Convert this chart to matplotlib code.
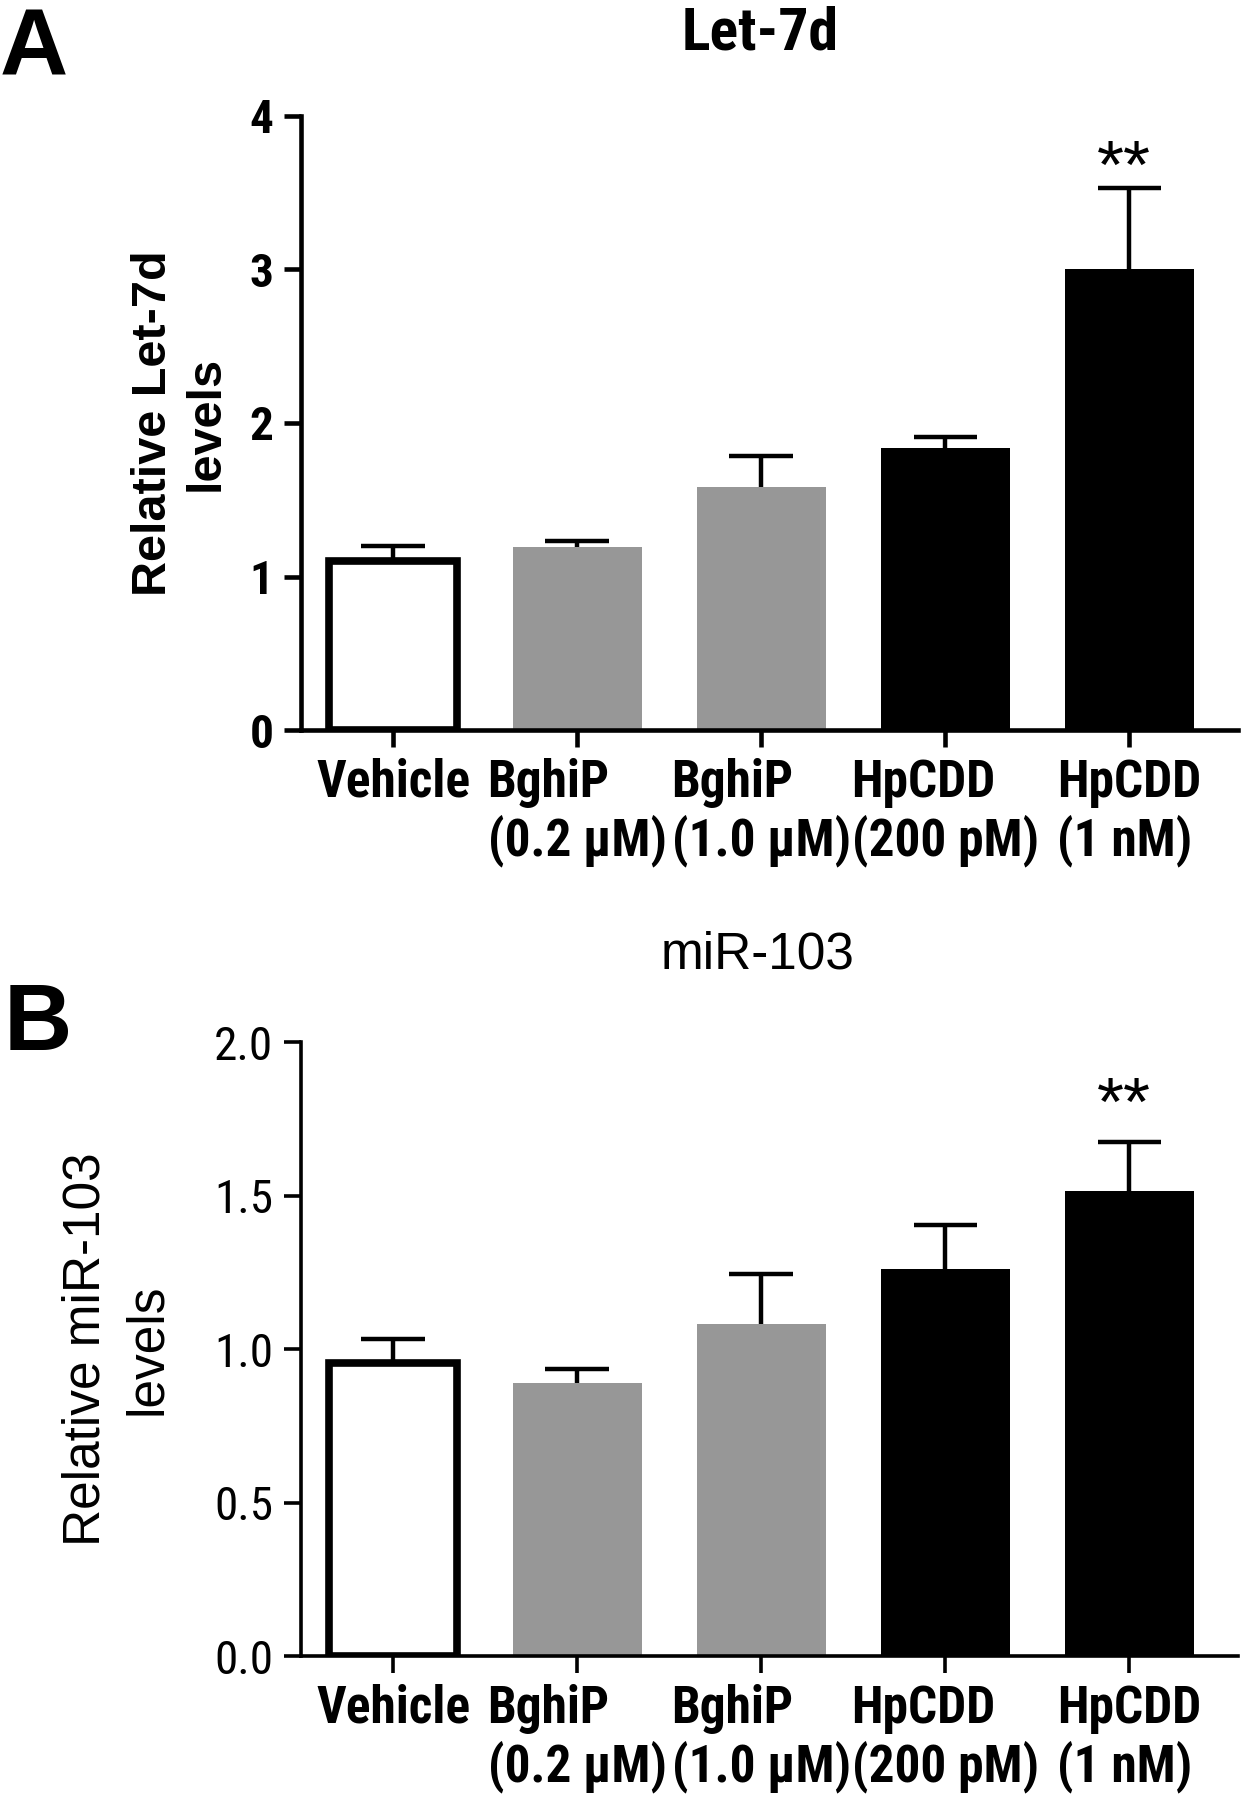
import matplotlib
matplotlib.use("Agg")
from matplotlib import pyplot as plt
from matplotlib import font_manager as fm

# categories (two-line tick labels)
groups = ["Vehicle", "BghiP\n(0.2 µM)", "BghiP\n(1.0 µM)", "HpCDD\n(200 pM)", "HpCDD\n(1 nM)"]

# panel A: Let-7d
let7d_mean = [1.10, 1.19, 1.585, 1.84, 3.00]
let7d_err = [0.10, 0.04, 0.20, 0.07, 0.53]

# panel B: miR-103
mir103_mean = [0.953, 0.89, 1.08, 1.26, 1.514]
mir103_err = [0.08, 0.045, 0.165, 0.145, 0.16]

face = ["white", "#979797", "#979797", "black", "black"]

# look for a narrow sans, otherwise fall back on Liberation Sans a bit smaller
installed = {f.name for f in fm.fontManager.ttflist}
narrow, stretch, shrink = "Liberation Sans", "normal", 0.86
for cand in ["Liberation Sans Narrow", "Arial Narrow", "Roboto Condensed", "Open Sans Condensed"]:
    if cand in installed:
        narrow, shrink = cand, 1.0
        break
else:
    if any(f.name == "DejaVu Sans" and f.stretch == "condensed" for f in fm.fontManager.ttflist):
        narrow, stretch, shrink = "DejaVu Sans", "condensed", 0.9
narrow = [narrow, "DejaVu Sans"]
wide = ["Liberation Sans", "DejaVu Sans"]

fig = plt.figure(figsize=(12.42, 18), dpi=100)


def panel(rect, means, errs, ylim, yticks, ylabels, lw_axis, bold, ylab, lsp, lpad, star_off):
    ax = fig.add_axes(rect)
    x = list(range(len(groups)))
    tops = [m + e for m, e in zip(means, errs)]
    ax.bar(x, means, width=0.70, color=face, edgecolor=["black"] * 5,
           linewidth=[5.5, 0, 0, 0, 0], zorder=2)
    # upper error bars only, no cap at the bar top
    ax.vlines(x, means, tops, color="black", linewidth=3.2, zorder=3)
    ax.hlines(tops, [i - 0.172 for i in x], [i + 0.172 for i in x], color="black",
              linewidth=3.2, zorder=3)
    ax.set_xlim(-0.5, 4.59)
    ax.set_ylim(*ylim)
    ax.spines["top"].set_visible(False)
    ax.spines["right"].set_visible(False)
    for s in ["left", "bottom"]:
        ax.spines[s].set_linewidth(lw_axis)
    ax.set_xticks(x)
    ax.set_xticklabels(groups, family=narrow, stretch=stretch, fontweight="bold",
                       fontsize=37 * shrink, linespacing=1.15, multialignment="left")
    ax.set_yticks(yticks)
    ax.set_yticklabels(ylabels, family=narrow, stretch=stretch, fontsize=34 * shrink,
                       fontweight="bold" if bold else "normal")
    ax.tick_params(axis="both", direction="out", width=lw_axis, length=12)
    ax.tick_params(axis="x", pad=8)
    ax.tick_params(axis="y", pad=8)
    ax.set_ylabel(ylab, family=wide, fontsize=35 if bold else 37,
                  fontweight="bold" if bold else "normal", linespacing=lsp, labelpad=lpad)
    ax.text(3.97, tops[4] + star_off, "**", ha="center", va="center",
            fontsize=50, family=wide)
    return ax


axA = panel([0.2424, 0.5944, 0.7542, 0.3412], let7d_mean, let7d_err, (0, 4),
            [0, 1, 2, 3, 4], ["0", "1", "2", "3", "4"], 3.3, True,
            "Relative Let-7d\nlevels", 1.2, 15, 0.12)
axB = panel([0.2424, 0.08, 0.7542, 0.3411], mir103_mean, mir103_err, (0, 2),
            [0, 0.5, 1.0, 1.5, 2.0], ["0.0", "0.5", "1.0", "1.5", "2.0"], 2.6, False,
            "Relative miR-103\nlevels", 1.35, 30, 0.115)

fig.text(0.612, 0.997, "Let-7d", ha="center", va="top", family=narrow, stretch=stretch,
         fontweight="bold", fontsize=43 * shrink)
fig.text(0.61, 0.483, "miR-103", ha="center", va="top", family=wide,
         fontweight="normal", fontsize=37)
fig.text(0.0, 0.9966, "A", ha="left", va="top", family=wide, fontweight="bold", fontsize=68)
fig.text(0.003, 0.455, "B", ha="left", va="top", family=wide, fontweight="bold", fontsize=68)

fig.savefig("out.png", dpi=100)
